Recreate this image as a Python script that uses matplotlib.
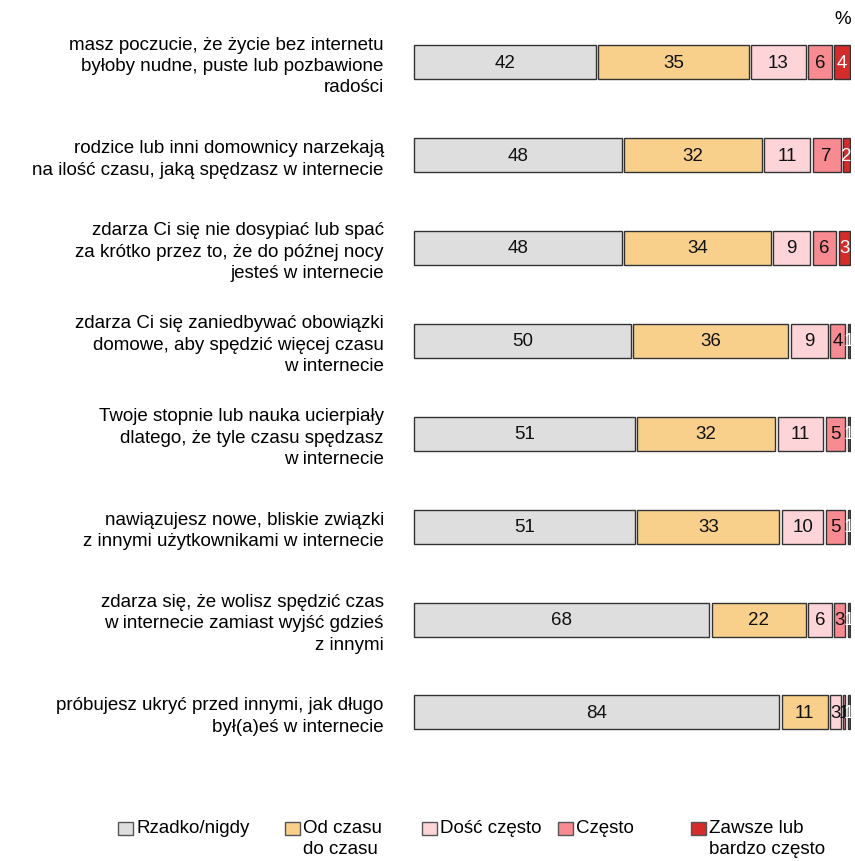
import numpy as np
import matplotlib.pyplot as plt
from matplotlib.patches import Rectangle

plt.rcParams['font.family'] = ['Liberation Sans', 'DejaVu Sans']

# Pytania (od góry)
pytania = [
    'masz poczucie, że życie bez internetu\nbyłoby nudne, puste lub pozbawione\nradości',
    'rodzice lub inni domownicy narzekają\nna ilość czasu, jaką spędzasz w internecie',
    'zdarza Ci się nie dosypiać lub spać\nza krótko przez to, że do późnej nocy\njesteś w internecie',
    'zdarza Ci się zaniedbywać obowiązki\ndomowe, aby spędzić więcej czasu\nw internecie',
    'Twoje stopnie lub nauka ucierpiały\ndlatego, że tyle czasu spędzasz\nw internecie',
    'nawiązujesz nowe, bliskie związki\nz innymi użytkownikami w internecie',
    'zdarza się, że wolisz spędzić czas\nw internecie zamiast wyjść gdzieś\nz innymi',
    'próbujesz ukryć przed innymi, jak długo\nbył(a)eś w internecie',
]

kategorie = ['Rzadko/nigdy', 'Od czasu\ndo czasu', 'Dość często', 'Często',
             'Zawsze lub\nbardzo często']

rzadko = [42, 48, 48, 50, 51, 51, 68, 84]
od_czasu = [35, 32, 34, 36, 32, 33, 22, 11]
dosc_czesto = [13, 11, 9, 9, 11, 10, 6, 3]
czesto = [6, 7, 6, 4, 5, 5, 3, 1]
zawsze = [4, 2, 3, 1, 1, 1, 1, 1]

serie = [rzadko, od_czasu, dosc_czesto, czesto, zawsze]
kolory = ['#dedede', '#f8d08c', '#fdd5d9', '#f88b92', '#d42b2b']
kolory_tekstu = ['#111111', '#111111', '#111111', '#111111', 'white']

FS = 13.5

fig = plt.figure(figsize=(8.55, 8.61), dpi=100)
ax = fig.add_axes([0.483, 0.1186, 0.512, 0.863])

y = np.arange(len(pytania))
lewo = np.zeros(len(pytania))
odstep = 0.55  # biała przerwa między segmentami
for vals, kol, kt in zip(serie, kolory, kolory_tekstu):
    vals = np.array(vals, dtype=float)
    ax.barh(y, vals - odstep, left=lewo + odstep / 2, height=0.366,
            color=kol, edgecolor='#333333', linewidth=1.0)
    for yi, l, v in zip(y, lewo, vals):
        ax.text(l + v / 2, yi + 0.01, f'{int(v)}', ha='center', va='center',
                fontsize=FS, color=kt)
    lewo += vals

ax.set_xlim(0, 100)
ax.set_ylim(len(pytania) - 0.5, -0.5)
ax.set_yticks(y)
ax.set_yticklabels(pytania, fontsize=FS, ha='right', linespacing=1.34)
ax.tick_params(axis='y', length=0, pad=21)
ax.set_xticks([])
for s in ax.spines.values():
    s.set_visible(False)

fig.text(843 / 855, 1 - 19 / 861, '%', fontsize=FS, ha='center', va='center')

# Legenda
leg_x = [118, 285, 422, 558, 691]
for lx, kat, kol in zip(leg_x, kategorie, kolory):
    fig.patches.append(Rectangle((lx / 855, 1 - 835 / 861), 15 / 855, 13 / 861,
                                 transform=fig.transFigure, facecolor=kol,
                                 edgecolor='#555555', linewidth=1.0))
    fig.text((lx + 18) / 855, 1 - 820 / 861, kat, fontsize=FS, ha='left',
             va='top', linespacing=1.34)

fig.savefig('out.png', dpi=100)
